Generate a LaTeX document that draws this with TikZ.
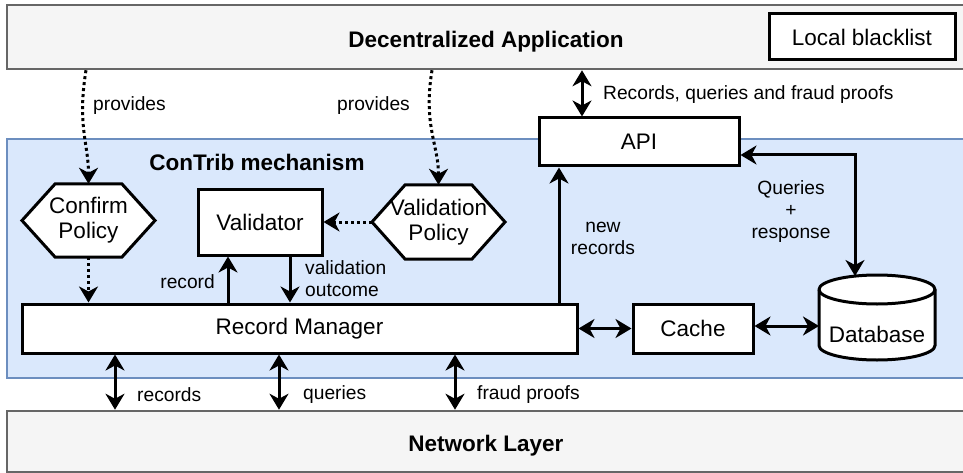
\documentclass[tikz,border=0pt]{standalone}
\usepackage{fontspec}
\setmainfont{Liberation Sans}
\usetikzlibrary{arrows.meta,calc}
\definecolor{laygray}{HTML}{F5F5F5}
\definecolor{laystroke}{HTML}{666666}
\definecolor{bluefill}{HTML}{DAE8FC}
\definecolor{bluestroke}{HTML}{6C8EBF}
\newcommand{\nodefont}{\fontsize{22.5}{25}\selectfont}
\newcommand{\labfont}{\fontsize{19.2}{22}\selectfont}
\begin{document}
\begin{tikzpicture}[x=1pt,y=-1pt,
  >={Stealth[length=16pt,width=19pt,inset=5pt]},
  layer/.style={draw=laystroke,fill=laygray,line width=2.5pt,inner sep=0pt,font=\nodefont\bfseries},
  box/.style={draw=black,fill=white,line width=3pt,inner sep=0pt,font=\nodefont,align=center},
  plain/.style={inner sep=0pt,font=\nodefont,align=center},
  hexshape/.style={draw=black,fill=white,line width=3pt,line join=miter},
  lab/.style={inner sep=0pt,font=\labfont,align=center},
  conn/.style={line width=3pt,->},
  dconn/.style={line width=3pt,<->},
  dotconn/.style={line width=3pt,->,dash pattern=on 3pt off 3pt},
]
\useasboundingbox (0,0) rectangle (963,473);
\fill[white] (0,0) rectangle (963,473);

% containers
\node[draw=bluestroke,fill=bluefill,line width=2pt,inner sep=0pt,minimum width=958,minimum height=239] (contrib) at (486,258.5) {};
\node[font=\nodefont\bfseries,inner sep=0pt] (contribl) at (257,162) {ConTrib mechanism};
\node[layer,minimum width=958,minimum height=64,text height=22pt,text depth=0pt] (dapp) at (486,37) {Decentralized Application};
\node[layer,minimum width=958,minimum height=61,text height=19pt,text depth=0pt] (net) at (486,441.5) {Network Layer};
\node[box,minimum width=186,minimum height=46] (bl) at (862,37) {Local blacklist};

% hexagons
\filldraw[hexshape] (22,220.5) -- (55,184) -- (122,184) -- (155,220.5) -- (122,257) -- (55,257) -- cycle;
\node[plain,minimum width=133,minimum height=73] (cp) at (88.5,220.5) {Confirm\\Policy};
\filldraw[hexshape] (372,222) -- (405,185) -- (472,185) -- (505,222) -- (472,259) -- (405,259) -- cycle;
\node[plain,minimum width=133,minimum height=74] (vp) at (438.5,222) {Validation\\Policy};

% boxes
\node[box,minimum width=124,minimum height=65] (val) at (260,222.5) {Validator};
\node[box,minimum width=555,minimum height=49] (rm) at (299.5,328.5) {Record Manager};
\node[box,minimum width=200,minimum height=48] (api) at (639,142) {API};
\node[box,minimum width=120,minimum height=49] (cache) at (693,328.5) {Cache};

% database cylinder
\filldraw[hexshape] (819,289.5) -- (819,345.5) arc[start angle=180,end angle=360,x radius=58pt,y radius=14.5pt]
  -- (935,289.5) arc[start angle=0,end angle=180,x radius=58pt,y radius=14.5pt] -- cycle;
\draw[line width=3pt] (819,289.5) arc[start angle=180,end angle=360,x radius=58pt,y radius=14.5pt];
\node[plain] (db) at (877,334) {Database};
\coordinate (dbtop) at (855,276);
\coordinate (dbleft) at (819,326);

% helper coordinates
\coordinate (xp1) at (86,0);
\coordinate (xp2) at (432,0);
\coordinate (xapi) at (582,0);
\coordinate (xrec) at (228,0);
\coordinate (xout) at (290,0);
\coordinate (xnew) at (559,0);
\coordinate (xb1) at (115,0);
\coordinate (xb2) at (279,0);
\coordinate (xb3) at (455,0);
\coordinate (yqr) at (0,155);
\coordinate (ycd) at (0,326);

% connectors
\draw[dotconn] (dapp.south -| xp1) .. controls ($(dapp.south -| xp1)+(-9,55)$) and ($(cp.north)+(0,-40)$) .. (cp.north);
\draw[dotconn] (dapp.south -| xp2) .. controls ($(dapp.south -| xp2)+(-9,55)$) and ($(vp.north)+(0,-40)$) .. (vp.north);
\draw[dotconn] (vp.west) -- (val.east |- vp.west);
\draw[dotconn] (cp.south) -- (rm.north -| cp.south);
\draw[conn] (rm.north -| xrec) -- (val.south -| xrec);
\draw[conn] (val.south -| xout) -- (rm.north -| xout);
\draw[conn] (rm.north -| xnew) -- (api.south -| xnew);
\draw[dconn] (dapp.south -| xapi) -- (api.north -| xapi);
\draw[dconn] (api.east |- yqr) -| (dbtop);
\draw[dconn] (rm.east) -- (cache.west);
\draw[dconn] (cache.east |- ycd) -- (dbleft);
\draw[dconn] (rm.south -| xb1) -- (net.north -| xb1);
\draw[dconn] (rm.south -| xb2) -- (net.north -| xb2);
\draw[dconn] (rm.south -| xb3) -- (net.north -| xb3);

% labels
\node[lab,anchor=west] (lp1) at (93,106) {provides};
\node[lab,anchor=east] (lp2) at (410,106) {provides};
\node[lab,anchor=west] (lrq) at (603,95) {Records, queries and fraud proofs};
\node[lab,anchor=east] (lrec) at (215,282) {record};
\node[lab,anchor=west,align=left] (lout) at (305,279) {validation\\outcome};
\node[lab] (lnew) at (603,238) {new\\records};
\node[lab] (lqr) at (791,212) {Queries\\+\\response};
\node[lab,anchor=west] (lb1) at (137,395) {records};
\node[lab,anchor=west] (lb2) at (303,395) {queries};
\node[lab,anchor=west] (lb3) at (477,395) {fraud proofs};
\end{tikzpicture}
\end{document}
